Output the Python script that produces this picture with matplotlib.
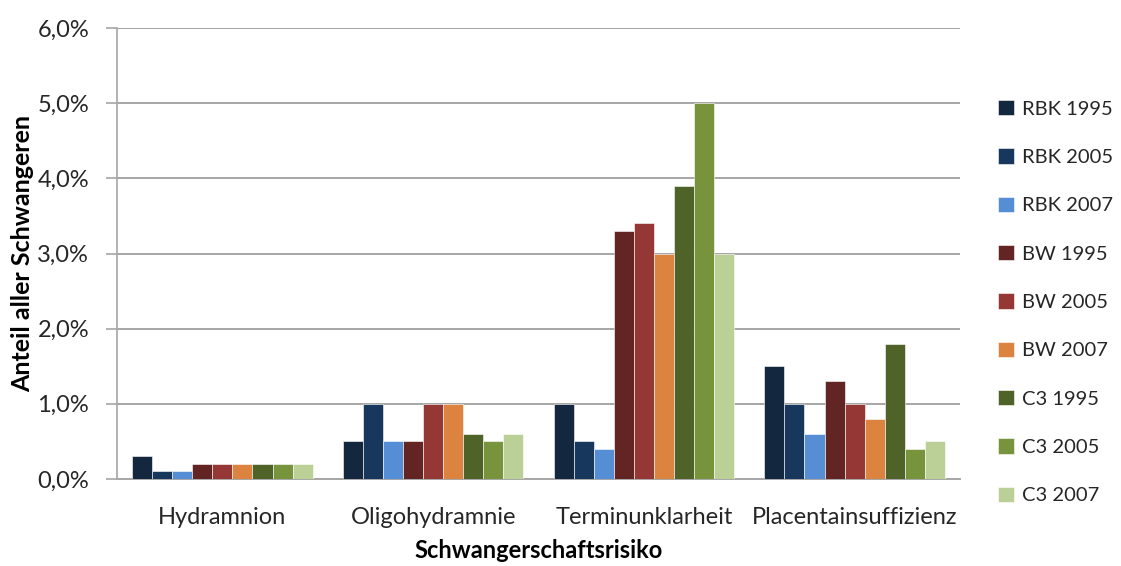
import numpy as np
import matplotlib
matplotlib.use("Agg")
import matplotlib.pyplot as plt
from matplotlib.ticker import FuncFormatter, MultipleLocator

plt.rcParams['font.family'] = ['Lato', 'DejaVu Sans']

categories = ["Hydramnion", "Oligohydramnie", "Terminunklarheit", "Placentainsuffizienz"]
series_names = ["RBK 1995", "RBK 2005", "RBK 2007",
                "BW 1995", "BW 2005", "BW 2007",
                "C3 1995", "C3 2005", "C3 2007"]

# percentage of all pregnant women per risk, one list per series
rbk_1995 = [0.3, 0.5, 1.0, 1.5]
rbk_2005 = [0.1, 1.0, 0.5, 1.0]
rbk_2007 = [0.1, 0.5, 0.4, 0.6]
bw_1995 = [0.2, 0.5, 3.3, 1.3]
bw_2005 = [0.2, 1.0, 3.4, 1.0]
bw_2007 = [0.2, 1.0, 3.0, 0.8]
c3_1995 = [0.2, 0.6, 3.9, 1.8]
c3_2005 = [0.2, 0.5, 5.0, 0.4]
c3_2007 = [0.2, 0.6, 3.0, 0.5]

series_values = [rbk_1995, rbk_2005, rbk_2007,
                 bw_1995, bw_2005, bw_2007,
                 c3_1995, c3_2005, c3_2007]

colors = ["#13273f", "#18375d", "#558ed5",
          "#632523", "#953735", "#dc843f",
          "#4f6228", "#77933c", "#bbd096"]

fig = plt.figure(figsize=(11.21, 5.66), dpi=100)
ax = fig.add_axes([117 / 1121, 1 - 479 / 566, (960 - 117) / 1121, (479 - 28) / 566])

n = len(series_names)
gap = 1.5
width = 1.0 / (n + gap)
x = np.arange(len(categories))
for i, (name, vals, col) in enumerate(zip(series_names, series_values, colors)):
    offs = (i - (n - 1) / 2) * width
    ax.bar(x + offs, vals, width=width, color=col, label=name,
           edgecolor="white", linewidth=0.4, zorder=3)

ax.set_xlim(-0.5, len(categories) - 0.5)
ax.set_ylim(0, 6.0)
ax.yaxis.set_major_locator(MultipleLocator(1.0))
ax.yaxis.set_major_formatter(FuncFormatter(lambda v, p: f"{v:.1f}%".replace(".", ",")))
ax.grid(axis="y", color="#a6a6a6", linewidth=1.4, zorder=0)
ax.set_axisbelow(True)

for s in ["top", "right"]:
    ax.spines[s].set_visible(False)
ax.spines["left"].set_color("#a6a6a6")
ax.spines["bottom"].set_color("#a6a6a6")
ax.spines["left"].set_linewidth(1.2)
ax.spines["bottom"].set_linewidth(1.4)

ax.set_xticks(x)
ax.set_xticklabels(categories)
ax.tick_params(axis="x", length=0, pad=20, labelsize=17, labelcolor="#262626")
ax.tick_params(axis="y", length=8, width=1.2, color="#a6a6a6", pad=12,
               labelsize=17, labelcolor="#262626")

ax.set_xlabel("Schwangerschaftsrisiko", fontsize=17, fontweight="bold", labelpad=8)
ax.set_ylabel("Anteil aller Schwangeren", fontsize=18, fontweight="bold", labelpad=2)

ax.legend(loc="upper left", bbox_to_anchor=(998 / 1121, 1 - 100 / 566),
          bbox_transform=fig.transFigure, frameon=False, fontsize=14.5,
          handlelength=0.8, handleheight=0.8, handletextpad=0.4,
          labelspacing=1.52, borderaxespad=0, borderpad=0, labelcolor="#262626")

fig.savefig("out.png", dpi=100, facecolor="white")
